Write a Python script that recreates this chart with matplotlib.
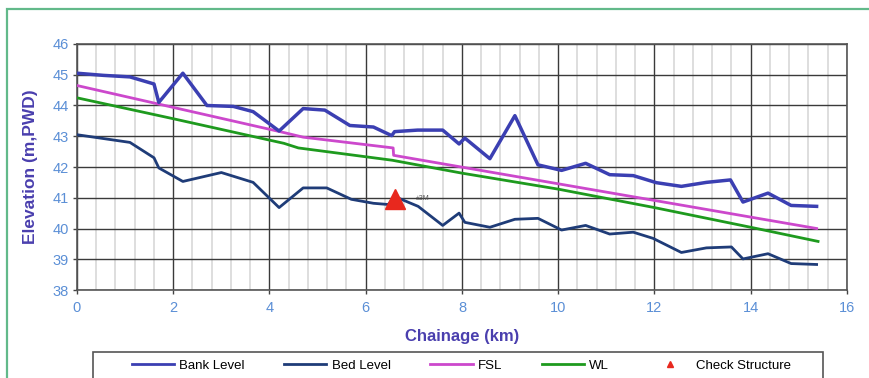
import numpy as np
import matplotlib
matplotlib.use("Agg")
import matplotlib.pyplot as plt
from matplotlib.patches import Rectangle
from matplotlib.lines import Line2D

plt.rcParams['font.family'] = ['Liberation Sans', 'DejaVu Sans']

# Bank level
bank_x = [0, 0.55, 1.1, 1.6, 1.7, 2.2, 2.7, 3.25, 3.66, 4.2, 4.7, 5.15, 5.67, 6.16, 6.54, 6.6,
          7.08, 7.6, 7.94, 8.06, 8.58, 9.1, 9.58, 10.07, 10.57, 11.07, 11.56, 12.04, 12.56,
          13.08, 13.58, 13.84, 14.36, 14.84, 15.37]
bank_y = [45.05, 44.98, 44.93, 44.7, 44.1, 45.05, 44.0, 43.97, 43.8, 43.17, 43.9, 43.85, 43.35,
          43.3, 43.02, 43.15, 43.2, 43.2, 42.75, 42.94, 42.27, 43.67, 42.07, 41.89, 42.12,
          41.75, 41.72, 41.49, 41.37, 41.5, 41.58, 40.86, 41.15, 40.75, 40.72]

# Bed level
bed_x = [0, 1.1, 1.6, 1.7, 2.2, 3.0, 3.66, 4.2, 4.7, 5.19, 5.7, 6.16, 6.47, 6.6, 7.09, 7.6,
         7.94, 8.06, 8.58, 9.1, 9.58, 10.07, 10.57, 11.07, 11.56, 11.97, 12.56, 13.08, 13.6,
         13.84, 14.36, 14.84, 15.37]
bed_y = [43.05, 42.8, 42.3, 41.97, 41.53, 41.82, 41.5, 40.68, 41.32, 41.32, 40.95, 40.82, 40.78,
         41.04, 40.72, 40.1, 40.5, 40.2, 40.04, 40.3, 40.33, 39.95, 40.1, 39.82, 39.88, 39.68,
         39.22, 39.37, 39.4, 39.01, 39.18, 38.86, 38.83]

# Full supply level
fsl_x = [0, 4.3, 4.7, 6.57, 6.58, 15.37]
fsl_y = [44.65, 43.12, 42.97, 42.62, 42.38, 40.0]

# Water level
wl_x = [0, 2, 4.3, 4.6, 6.55, 8, 10, 12, 14, 15.4]
wl_y = [44.25, 43.57, 42.77, 42.62, 42.22, 41.8, 41.28, 40.68, 40.04, 39.58]

# Check structure
cs_x = [6.6]
cs_y = [40.96]
cs_note = "±3M"

fig = plt.figure(figsize=(8.69, 3.78), dpi=100)
ax = fig.add_axes([0.0886, 0.2328, 0.886, 0.6508])

ax.plot(bank_x, bank_y, color='#3b3fb2', lw=2.5, zorder=4)
ax.plot(bed_x, bed_y, color='#1f3c78', lw=2.0, zorder=4)
ax.plot(fsl_x, fsl_y, color='#cc48cc', lw=2.0, zorder=3)
ax.plot(wl_x, wl_y, color='#1e9a1e', lw=2.0, zorder=3)
ax.plot(cs_x, cs_y, marker='^', color='#e8281e', ms=14, ls='none', zorder=5)
ax.text(cs_x[0] + 0.45, cs_y[0], cs_note, fontsize=5, color='#555555', va='center', zorder=5)

ax.set_xlim(0, 16)
ax.set_ylim(38, 46)
ax.set_xticks(np.arange(0, 17, 2))
ax.set_xticks(np.arange(0, 16.01, 0.4), minor=True)
ax.set_yticks(np.arange(38, 47, 1))

ax.grid(True, which='minor', axis='x', color='#d4d4d4', lw=1.1, zorder=0)
ax.grid(True, which='major', color='#3a3a3a', lw=1.0, zorder=1)
ax.set_axisbelow(True)

for s in ax.spines.values():
    s.set_color('#555555')
    s.set_linewidth(1.2)

ax.tick_params(which='major', direction='out', length=3, width=1, color='#444444',
               labelcolor='#5b8fd6', labelsize=10.5)
ax.tick_params(axis='x', which='major', pad=5)
ax.tick_params(axis='y', which='major', pad=3)
ax.tick_params(which='minor', length=0)

lab_color = '#4a3fae'
ax.set_xlabel("Chainage (km)", fontsize=12, fontweight='bold', color=lab_color, labelpad=10)
ax.set_ylabel("Elevation (m,PWD)", fontsize=12.5, fontweight='bold', color=lab_color, labelpad=10)

# Legend with a separate frame (box runs off the bottom edge)
handles = [
    Line2D([], [], color='#3b3fb2', lw=2),
    Line2D([], [], color='#1f3c78', lw=2),
    Line2D([], [], color='#cc48cc', lw=2),
    Line2D([], [], color='#1e9a1e', lw=2),
    Line2D([], [], color='#e8281e', marker='^', ms=5, ls='none'),
]
labels = ["Bank Level", "Bed Level", "FSL", "WL", "Check Structure"]
leg = fig.legend(handles, labels, loc='center', bbox_to_anchor=(0.531, 0.032), ncol=5,
                 frameon=False, fontsize=9.5, handlelength=3.2, handletextpad=0.4,
                 columnspacing=3.0)
fig.add_artist(Rectangle((93 / 869, -0.05), 730 / 869, 0.05 + 26 / 378, transform=fig.transFigure,
                         fill=False, edgecolor='#555555', lw=1.2))

# Outer green frame
fig.add_artist(Rectangle((7 / 869, -0.05), 1.0, 0.05 + 369 / 378, transform=fig.transFigure,
                         fill=False, edgecolor='#62b98a', lw=1.6))

fig.savefig("out.png", dpi=100)
